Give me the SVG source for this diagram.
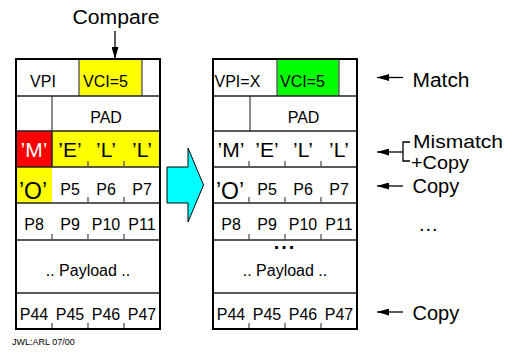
<svg xmlns="http://www.w3.org/2000/svg" width="514" height="352" viewBox="0 0 514 352">
<style>
text{font-family:"Liberation Sans",Arial,sans-serif;fill:#000}
.t16{font-size:16px}
.t20{font-size:20px}
.t18{font-size:18px}
.q{font-size:21px}
.mid{text-anchor:middle}
.small{font-size:9px}
.outer{fill:none;stroke:#000;stroke-width:2}
.row{stroke:#222;stroke-width:1.5}
.gray{stroke:#666;stroke-width:1.5}
.tick{stroke:#555;stroke-width:1.3}
.conn{stroke:#000;stroke-width:1.3;fill:none}
</style>
<defs>
<marker id="ah" markerUnits="userSpaceOnUse" markerWidth="12" markerHeight="7" refX="12" refY="3.5" orient="auto">
<path d="M0,0 L12,3.5 L0,7 z" fill="#000"/>
</marker>
</defs>
<rect width="514" height="352" fill="#fff"/>

<g id="compare-label">
<text class="t20" x="72.5" y="24" textLength="87" lengthAdjust="spacingAndGlyphs">Compare</text>
</g>

<g id="cell-left" transform="translate(16,59)">
<rect x="63" y="0" width="63" height="37" fill="#ffff00"/>
<rect x="0" y="72" width="36" height="36" fill="#ff0000"/>
<rect x="36" y="72" width="108" height="36" fill="#ffff00"/>
<rect x="0" y="108" width="36" height="36" fill="#ffff00"/>
<line class="gray" x1="63" y1="0" x2="63" y2="37"/>
<line class="gray" x1="126" y1="0" x2="126" y2="37"/>
<line class="gray" x1="36" y1="37" x2="36" y2="72"/>
<line class="row" x1="36" y1="72" x2="36" y2="108"/>
<line class="row" x1="0" y1="37" x2="144" y2="37"/>
<line class="row" x1="0" y1="72" x2="144" y2="72"/>
<line class="row" x1="0" y1="108" x2="144" y2="108"/>
<line class="row" x1="0" y1="144" x2="144" y2="144"/>
<line class="row" x1="0" y1="181" x2="144" y2="181"/>
<line class="row" x1="0" y1="234" x2="144" y2="234"/>
<path class="tick" d="M72,102V108M108,102V108M72,138V144M108,138V144M36,175V181M72,175V181M108,175V181M36,264V270M72,264V270M108,264V270"/>
<rect class="outer" x="0" y="0" width="144" height="270"/>
<text class="t16 mid" x="27" y="28">VPI</text>
<text class="t16" x="67" y="28">VCI=5</text>
<text class="t16 mid" x="90" y="64">PAD</text>
<text class="q mid" x="18" y="98" style="fill:#fff">’M’</text>
<text class="q mid" x="54" y="98">’E’</text>
<text class="q mid" x="90" y="98">’L’</text>
<text class="q mid" x="126" y="98">’L’</text>
<text class="q mid" x="17" y="140" style="font-size:23px">’O’</text>
<text class="t16 mid" x="54" y="136">P5</text>
<text class="t16 mid" x="90" y="136">P6</text>
<text class="t16 mid" x="126" y="136">P7</text>
<text class="t16 mid" x="18" y="171">P8</text>
<text class="t16 mid" x="54" y="171">P9</text>
<text class="t16 mid" x="90" y="171">P10</text>
<text class="t16 mid" x="126" y="171">P11</text>
<text class="t16 mid" x="72" y="217">.. Payload ..</text>
<text class="t16 mid" x="18" y="261">P44</text>
<text class="t16 mid" x="54" y="261">P45</text>
<text class="t16 mid" x="90" y="261">P46</text>
<text class="t16 mid" x="126" y="261">P47</text>
</g>

<g id="transfer-arrow">
<polygon points="167,167 188,167 188,148 203.5,185 188,222 188,203 167,203" fill="#00ffff" stroke="#000" stroke-width="1"/>
</g>

<g id="cell-right" transform="translate(213,59)">
<rect x="64" y="0" width="62" height="37" fill="#00ff00"/>
<line class="gray" x1="64" y1="0" x2="64" y2="37"/>
<line class="gray" x1="126" y1="0" x2="126" y2="37"/>
<line class="gray" x1="37" y1="37" x2="37" y2="72"/>
<line class="row" x1="0" y1="37" x2="144" y2="37"/>
<line class="row" x1="0" y1="72" x2="144" y2="72"/>
<line class="row" x1="0" y1="108" x2="144" y2="108"/>
<line class="row" x1="0" y1="144" x2="144" y2="144"/>
<line class="row" x1="0" y1="181" x2="144" y2="181"/>
<line class="row" x1="0" y1="234" x2="144" y2="234"/>
<path class="tick" d="M36,102V108M72,102V108M108,102V108M36,138V144M72,138V144M108,138V144M36,175V181M72,175V181M108,175V181M36,264V270M72,264V270M108,264V270"/>
<rect class="outer" x="0" y="0" width="144" height="270"/>
<text class="t16" x="1.5" y="28">VPI=X</text>
<text class="t16" x="67" y="28">VCI=5</text>
<text class="t16 mid" x="90.5" y="64">PAD</text>
<text class="q mid" x="18" y="98">’M’</text>
<text class="q mid" x="54" y="98">’E’</text>
<text class="q mid" x="90" y="98">’L’</text>
<text class="q mid" x="126" y="98">’L’</text>
<text class="q mid" x="17" y="140" style="font-size:23px">’O’</text>
<text class="t16 mid" x="54" y="136">P5</text>
<text class="t16 mid" x="90" y="136">P6</text>
<text class="t16 mid" x="126" y="136">P7</text>
<text class="t16 mid" x="18" y="171">P8</text>
<text class="t16 mid" x="54" y="171">P9</text>
<text class="t16 mid" x="90" y="171">P10</text>
<text class="t16 mid" x="126" y="171">P11</text>
<text class="t20 mid" x="72" y="190" style="font-weight:bold;letter-spacing:2px">...</text>
<text class="t16 mid" x="72" y="217">.. Payload ..</text>
<text class="t16 mid" x="18" y="261">P44</text>
<text class="t16 mid" x="54" y="261">P45</text>
<text class="t16 mid" x="90" y="261">P46</text>
<text class="t16 mid" x="126" y="261">P47</text>
</g>

<g id="labels">
<text class="t20" x="412.5" y="87" textLength="57" lengthAdjust="spacingAndGlyphs">Match</text>
<text class="t18" x="413" y="148" textLength="90" lengthAdjust="spacingAndGlyphs">Mismatch</text>
<text class="t18" x="411" y="168.5" textLength="58" lengthAdjust="spacingAndGlyphs">+Copy</text>
<text class="t20" x="412.5" y="193">Copy</text>
<text class="t20" x="419" y="231" style="letter-spacing:1px">...</text>
<text class="t20" x="412.5" y="320">Copy</text>
<text class="small" x="12" y="345">JWL:ARL 07/00</text>
</g>

<g id="connectors">
<line class="conn" x1="115" y1="31" x2="115" y2="59" marker-end="url(#ah)"/>
<line class="conn" x1="403" y1="77.5" x2="377" y2="77.5" marker-end="url(#ah)"/>
<line class="conn" x1="403" y1="152" x2="377" y2="152" marker-end="url(#ah)"/>
<path class="conn" d="M410,142H403V161H410"/>
<line class="conn" x1="403" y1="186" x2="377" y2="186" marker-end="url(#ah)"/>
<line class="conn" x1="403" y1="312" x2="377" y2="312" marker-end="url(#ah)"/>
</g>
</svg>
